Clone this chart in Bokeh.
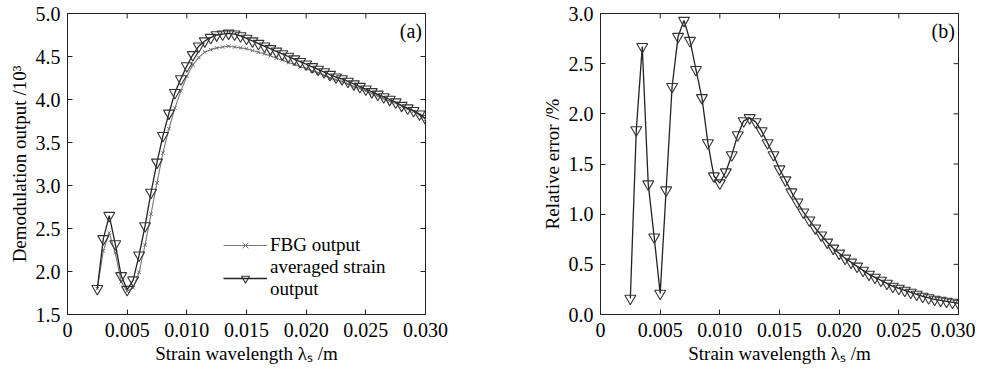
import math
from bokeh.plotting import figure
from bokeh.layouts import row
from bokeh.models import (FixedTicker, CustomJSTickFormatter, PrintfTickFormatter,
                          Label, Legend, LegendItem, Range1d)
from bokeh.embed import file_html
from bokeh.resources import INLINE

# ---------------- data ----------------
wavelength = [0.0025, 0.0030, 0.0035, 0.0040, 0.0045, 0.0050, 0.0055, 0.0060,
              0.0065, 0.0070, 0.0075, 0.0080, 0.0085, 0.0090, 0.0095, 0.0100,
              0.0105, 0.0110, 0.0115, 0.0120, 0.0125, 0.0130, 0.0135, 0.0140,
              0.0145, 0.0150, 0.0155, 0.0160, 0.0165, 0.0170, 0.0175, 0.0180,
              0.0185, 0.0190, 0.0195, 0.0200, 0.0205, 0.0210, 0.0215, 0.0220,
              0.0225, 0.0230, 0.0235, 0.0240, 0.0245, 0.0250, 0.0255, 0.0260,
              0.0265, 0.0270, 0.0275, 0.0280, 0.0285, 0.0290, 0.0295, 0.0300]

fbg_output = [1.80, 2.24, 2.45, 2.22, 1.88, 1.77, 1.81, 1.99,
              2.31, 2.67, 3.03, 3.38, 3.66, 3.90, 4.10, 4.27,
              4.40, 4.49, 4.55, 4.58, 4.60, 4.61, 4.62, 4.61,
              4.60, 4.59, 4.57, 4.55, 4.53, 4.51, 4.48, 4.46,
              4.43, 4.41, 4.38, 4.36, 4.33, 4.31, 4.28, 4.25,
              4.23, 4.21, 4.18, 4.15, 4.13, 4.10, 4.07, 4.04,
              4.01, 3.98, 3.96, 3.92, 3.89, 3.86, 3.82, 3.77]

averaged_output = [1.80, 2.38, 2.65, 2.32, 1.95, 1.79, 1.90, 2.19,
                   2.53, 2.92, 3.27, 3.58, 3.84, 4.08, 4.24, 4.39,
                   4.52, 4.62, 4.68, 4.72, 4.75, 4.76, 4.77, 4.76,
                   4.74, 4.71, 4.68, 4.65, 4.62, 4.59, 4.56, 4.53,
                   4.50, 4.47, 4.44, 4.41, 4.38, 4.35, 4.32, 4.29,
                   4.26, 4.24, 4.21, 4.18, 4.15, 4.12, 4.09, 4.06,
                   4.03, 4.00, 3.97, 3.93, 3.90, 3.87, 3.83, 3.78]

relative_error = [0.16, 1.84, 2.67, 1.30, 0.77, 0.21, 1.24, 2.27,
                  2.77, 2.93, 2.73, 2.44, 2.16, 1.71, 1.38, 1.31,
                  1.42, 1.59, 1.79, 1.93, 1.96, 1.92, 1.83, 1.71,
                  1.59, 1.45, 1.34, 1.22, 1.12, 1.02, 0.94, 0.86,
                  0.79, 0.72, 0.66, 0.61, 0.56, 0.52, 0.48, 0.44,
                  0.40, 0.37, 0.34, 0.31, 0.28, 0.26, 0.24, 0.22,
                  0.20, 0.18, 0.165, 0.15, 0.14, 0.13, 0.12, 0.11]

x_ticks = [0, 0.005, 0.010, 0.015, 0.020, 0.025, 0.030]
left_y_ticks = [1.5, 2.0, 2.5, 3.0, 3.5, 4.0, 4.5, 5.0]
right_y_ticks = [0.0, 0.5, 1.0, 1.5, 2.0, 2.5, 3.0]

X_RANGE = (0, 0.030)
LEFT_Y_RANGE = (1.5, 5.0)
RIGHT_Y_RANGE = (0.0, 3.0)

FONT = "Liberation Serif"
TICK_SIZE = "20px"
LABEL_SIZE = "19px"
AX = "#222222"

xfmt = CustomJSTickFormatter(code="return tick == 0 ? '0' : tick.toFixed(3);")


def style(ax, ticks, fmt, standoff):
    ax.ticker = FixedTicker(ticks=ticks)
    ax.major_tick_in = 5
    ax.major_tick_out = 0
    ax.minor_tick_line_color = None
    ax.axis_line_color = AX
    ax.major_tick_line_color = AX
    ax.major_label_text_font = FONT
    ax.major_label_text_color = "black"
    ax.major_label_text_font_size = TICK_SIZE
    ax.major_label_standoff = standoff
    ax.axis_label_text_font = FONT
    ax.axis_label_text_font_style = "normal"
    ax.axis_label_text_font_size = LABEL_SIZE
    ax.axis_label_text_color = "black"
    ax.axis_label_standoff = 3
    ax.formatter = fmt


def make_fig(width, height, yr, left, right, top, bottom):
    p = figure(width=width, height=height, output_backend="svg", toolbar_location=None,
               x_range=Range1d(*X_RANGE), y_range=Range1d(*yr),
               min_border_left=left, min_border_right=right,
               min_border_top=top, min_border_bottom=bottom)
    p.xgrid.grid_line_color = None
    p.ygrid.grid_line_color = None
    p.outline_line_color = AX
    p.outline_line_width = 1
    p.background_fill_color = "white"
    p.border_fill_color = "white"
    return p


def mirror_ticks(p, yticks, yr):
    # inward tick marks on the top and right frame edges (outer half is clipped by the frame)
    p.scatter(x_ticks, [yr[1]] * len(x_ticks), marker="dash", angle=math.pi / 2,
              size=10, line_color=AX, line_width=1)
    p.scatter([X_RANGE[1]] * len(yticks), yticks, marker="dash", angle=0,
              size=10, line_color=AX, line_width=1)


# ---------------- (a) ----------------
p1 = make_fig(448, 366, LEFT_Y_RANGE, 67, 23, 13, 50)
style(p1.xaxis[0], x_ticks, xfmt, 8)
style(p1.yaxis[0], left_y_ticks, PrintfTickFormatter(format="%.1f"), 7)
p1.xaxis[0].axis_label = "Strain wavelength λₛ /m"
p1.yaxis[0].axis_label = "Demodulation output /10³"
mirror_ticks(p1, left_y_ticks, LEFT_Y_RANGE)

l1 = p1.line(wavelength, fbg_output, line_color="#777777", line_width=1.1)
s1 = p1.scatter(wavelength, fbg_output, marker="x", size=5, line_color="#6f6f6f", line_width=1)
l2 = p1.line(wavelength, averaged_output, line_color="#222222", line_width=1.3)
s2 = p1.scatter(wavelength, averaged_output, marker="inverted_triangle", size=11,
                line_color="#333333", fill_color=None, line_width=1.1)

legend = Legend(items=[LegendItem(label="FBG output", renderers=[l1, s1]),
                       LegendItem(label="averaged strain\noutput", renderers=[l2, s2])],
                location=(156, 14), orientation="vertical")
legend.label_text_font = FONT
legend.label_text_font_size = "19px"
legend.label_text_color = "black"
legend.glyph_width = 44
legend.label_standoff = 3
legend.spacing = 0
legend.padding = 4
legend.border_line_color = None
legend.background_fill_alpha = 0.0
p1.add_layout(legend)

p1.add_layout(Label(x=0.0297, y=4.93, text="(a)", text_align="right", text_baseline="top",
                    text_font=FONT, text_font_size="20px", text_color="black"))

# ---------------- (b) ----------------
p2 = make_fig(527, 366, RIGHT_Y_RANGE, 152, 17, 13, 52)
style(p2.xaxis[0], x_ticks, xfmt, 8)
style(p2.yaxis[0], right_y_ticks, PrintfTickFormatter(format="%.1f"), 7)
p2.xaxis[0].axis_label = "Strain wavelength λₛ /m"
p2.yaxis[0].axis_label = "Relative error /%"
mirror_ticks(p2, right_y_ticks, RIGHT_Y_RANGE)

p2.line(wavelength, relative_error, line_color="#222222", line_width=1.3)
p2.scatter(wavelength, relative_error, marker="inverted_triangle", size=11,
           line_color="#333333", fill_color=None, line_width=1.1)

p2.add_layout(Label(x=0.0297, y=2.94, text="(b)", text_align="right", text_baseline="top",
                    text_font=FONT, text_font_size="20px", text_color="black"))

layout = row(p1, p2)
open("out.html", "w").write(file_html(layout, INLINE))
